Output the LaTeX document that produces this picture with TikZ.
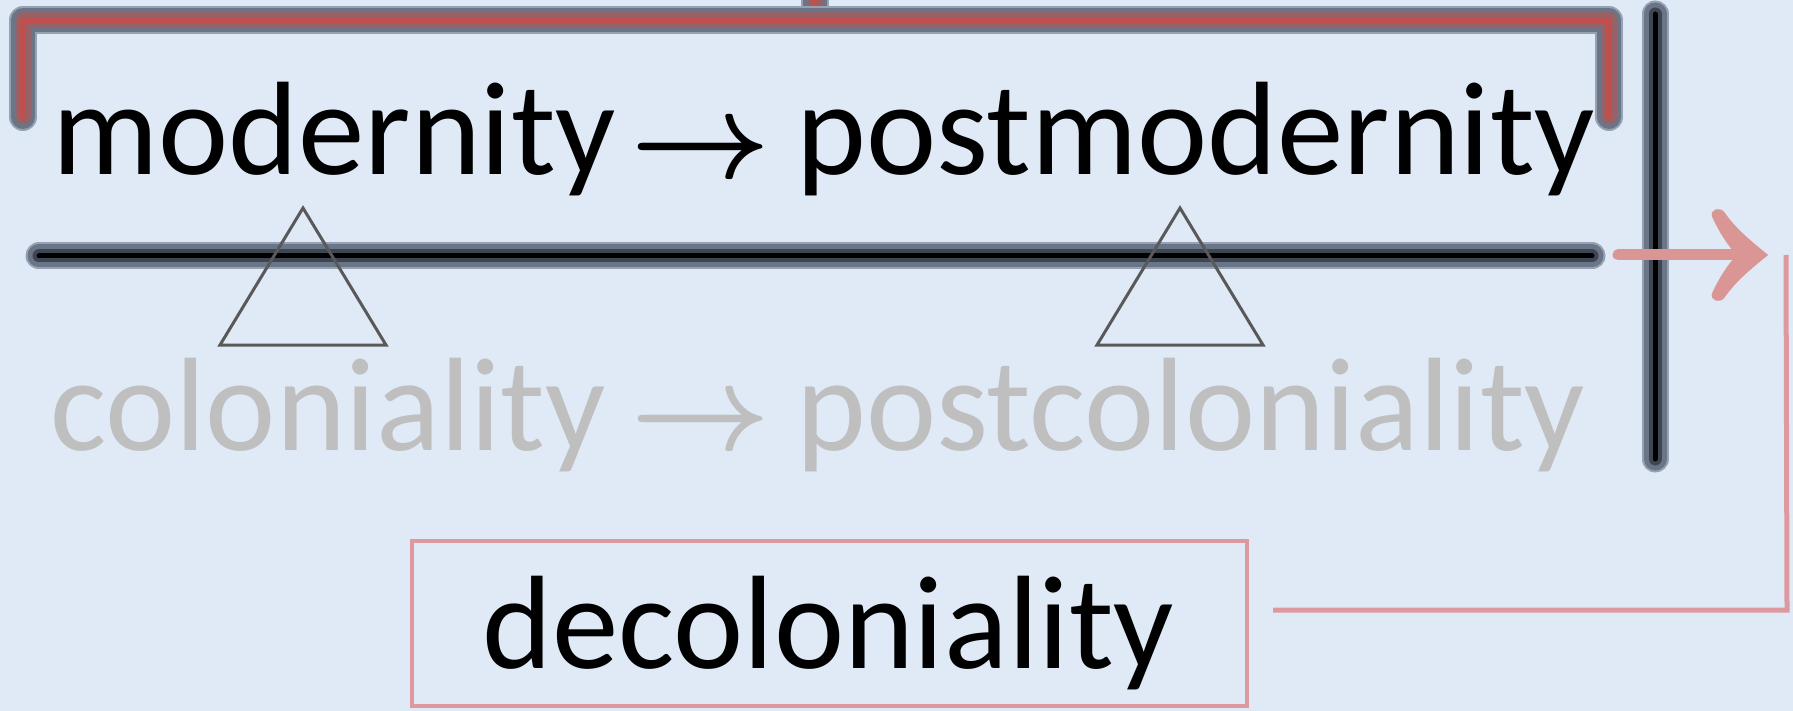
\RequirePackage{fix-cm}
\documentclass[tikz,border=0pt]{standalone}
\usepackage{fontspec}
\setmainfont{Carlito}

\definecolor{bg}{RGB}{224,234,246}
\definecolor{glowhalo}{RGB}{150,161,178}
\definecolor{glowouter}{RGB}{106,118,136}
\definecolor{glowredmid}{RGB}{150,98,104}
\definecolor{bracketred}{RGB}{192,80,77}
\definecolor{glowdarkmid}{RGB}{62,70,82}
\definecolor{arrowpink}{RGB}{217,150,148}
\definecolor{framepink}{RGB}{221,152,160}
\definecolor{trigray}{RGB}{89,89,89}
\definecolor{fadetext}{RGB}{191,191,191}

\tikzset{
  bigtext/.style={inner sep=0pt, anchor=base west, font=\fontsize{133}{160}\selectfont},
  arrowglyph/.style={inner sep=0pt, anchor=base, font=\fontsize{122}{150}\selectfont\boldmath},
  redglow/.style={line width=28pt, glowhalo, line cap=round, line join=round,
    postaction={draw, line width=24pt, glowouter},
    postaction={draw, line width=15pt, glowredmid},
    postaction={draw, line width=6pt, bracketred}},
  darkglow/.style={line width=27pt, glowhalo, line cap=round, line join=round,
    postaction={draw, line width=23pt, glowouter},
    postaction={draw, line width=13pt, glowdarkmid},
    postaction={draw, line width=5pt, black}},
  triangleline/.style={draw=trigray, line width=3pt, line join=miter},
  pinkshaft/.style={draw=arrowpink, line width=11pt, line cap=round},
  frameline/.style={draw=framepink, line width=5pt},
}

\begin{document}
\begin{tikzpicture}[x=1pt, y=-1pt]
  % canvas
  \fill[bg] (0,0) rectangle (1793,711);
  \useasboundingbox (0,0) rectangle (1793,711);

  % bracket over the upper row
  \coordinate (brL) at (23,117);
  \coordinate (brTL) at (23,20);
  \coordinate (brTR) at (1609,20);
  \coordinate (brR) at (1609,117);
  \coordinate (stemTop) at (815,-20);
  \coordinate (stemFoot) at (815,20);
  \draw[redglow] (stemTop) -- (stemFoot);
  \draw[redglow] (brL) -- (brTL) -- (brTR) -- (brR);

  % dividing bars
  \coordinate (barL) at (39,256);
  \coordinate (barR) at (1592,256);
  \coordinate (wallTop) at (1655,14);
  \coordinate (wallBot) at (1655,459);
  \draw[darkglow] (barL) -- (barR);
  \draw[darkglow] (wallTop) -- (wallBot);

  % upper row
  \node[bigtext] (modern) at (52,175) {modernity};
  \node[arrowglyph] (arrowA) at (701,178) {$\rightarrow$};
  \node[bigtext] (postmodern) at (796,175) {postmodernity};

  % lower row
  \node[bigtext, text=fadetext] (colonial) at (50,450) {coloniality};
  \node[arrowglyph, text=fadetext] (arrowB) at (701,449) {$\rightarrow$};
  \node[bigtext, text=fadetext] (postcolonial) at (796,450) {postcoloniality};

  % triangles over the bar
  \draw[triangleline] (303,208) -- (386,345) -- (220,345) -- cycle;
  \draw[triangleline] (1180,208) -- (1263,345) -- (1097,345) -- cycle;

  % decoloniality box
  \node[draw=framepink, line width=4pt, minimum width=835pt, minimum height=165pt,
        inner sep=0pt] (decolbox) at (829.5,623.5) {};
  \node[bigtext] (decoltext) at (482,668) {decoloniality};

  % elbow line from the box up to the arrow
  \coordinate (decolout) at (1273,610);
  \coordinate (elbow) at (1787,610);
  \coordinate (elbowTop) at (1786,255);
  \draw[frameline] (decolout) -- (elbow) -- (elbowTop);

  % pink arrow across the wall
  \coordinate (arrowStart) at (1618,255);
  \coordinate (arrowTip) at (1767,255);
  \draw[pinkshaft] (arrowStart) -- (1750,255);
  \fill[arrowpink, draw=arrowpink, line width=1.5pt, line join=round]
    (arrowTip)
    .. controls (1752,243) and (1735,229) .. (1724,213)
    .. controls (1720,207) and (1710,210) .. (1713,217)
    .. controls (1720,232) and (1728,245) .. (1738,255)
    .. controls (1728,265) and (1720,278) .. (1713,293)
    .. controls (1710,300) and (1720,303) .. (1724,297)
    .. controls (1735,281) and (1752,267) .. (arrowTip) -- cycle;
\end{tikzpicture}
\end{document}
